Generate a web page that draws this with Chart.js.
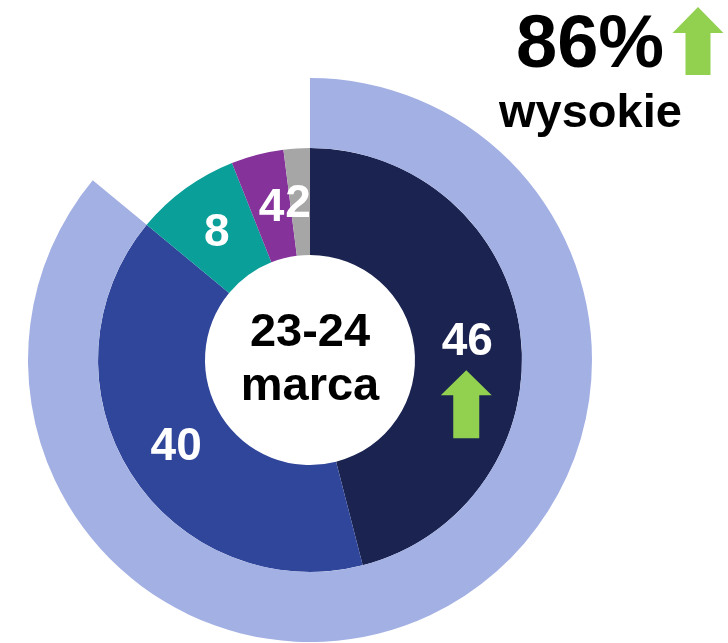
<!DOCTYPE html>
<html>
<head>
<meta charset="utf-8">
<script src="https://cdn.jsdelivr.net/npm/chart.js@4.4.1/dist/chart.umd.min.js"></script>
<style>
  html, body { margin: 0; padding: 0; background: #fff; }
  #wrap { position: relative; width: 728px; height: 643px; }
</style>
</head>
<body>
<div id="wrap"><canvas id="chart"></canvas></div>
<script>
// inner ring: share of answers
const categories = ['46', '40', '8', '4', '2'];
const innerValues = [46, 40, 8, 4, 2];
const innerColors = ['#1b2350', '#30469b', '#0a9f99', '#85329b', '#a6a6a6'];

// outer ring: total "wysokie"
const outerValues = [86, 14];
const outerColors = ['#a3b0e3', 'rgba(0,0,0,0)'];

const centerLines = ['23-24', 'marca'];
const headline = '86%';
const headlineSub = 'wysokie';
const arrowGreen = '#92d050';

function drawArrow(ctx, cx, top, headW, headH, shaftW, bottom) {
    ctx.beginPath();
    ctx.moveTo(cx, top);
    ctx.lineTo(cx + headW / 2, top + headH);
    ctx.lineTo(cx + shaftW / 2, top + headH);
    ctx.lineTo(cx + shaftW / 2, bottom);
    ctx.lineTo(cx - shaftW / 2, bottom);
    ctx.lineTo(cx - shaftW / 2, top + headH);
    ctx.lineTo(cx - headW / 2, top + headH);
    ctx.closePath();
    ctx.fillStyle = arrowGreen;
    ctx.fill();
}

// labels, center text and arrows
const labelsPlugin = {
    id: 'labels',
    afterDraw(chart) {
        const ctx = chart.ctx;
        const meta = chart.getDatasetMeta(1);
        ctx.save();
        ctx.fillStyle = '#fff';
        ctx.font = 'bold 46px "Liberation Sans", Arial, sans-serif';
        ctx.textAlign = 'center';
        ctx.textBaseline = 'middle';
        meta.data.forEach((arc, i) => {
            const p = arc.tooltipPosition();
            let dx = 0, dy = 2;
            if (i === 3) dx = 1;
            if (i === 4) dx = -2;
            ctx.fillText(categories[i], p.x + dx, p.y + dy);
        });

        // arrow below 46
        const p0 = meta.data[0].tooltipPosition();
        drawArrow(ctx, p0.x - 1, p0.y + 30, 51, 25, 26, p0.y + 98);

        // center text
        const c = meta.data[0];
        ctx.fillStyle = '#000';
        ctx.font = 'bold 47px "Liberation Sans", Arial, sans-serif';
        ctx.textBaseline = 'alphabetic';
        ctx.fillText(centerLines[0], c.x, c.y - 14);
        ctx.fillText(centerLines[1], c.x, c.y + 40);

        // headline top right
        ctx.textAlign = 'left';
        ctx.font = 'bold 74px "Liberation Sans", Arial, sans-serif';
        ctx.fillText(headline, 516, 67);
        ctx.font = 'bold 47px "Liberation Sans", Arial, sans-serif';
        ctx.fillText(headlineSub, 499, 127);
        drawArrow(ctx, 698, 7, 51, 26, 25, 75);
        ctx.restore();
    }
};

new Chart(document.getElementById('chart'), {
    type: 'doughnut',
    data: {
        labels: categories,
        datasets: [
            { data: outerValues, backgroundColor: outerColors, borderWidth: 0, hoverOffset: 0, weight: 70 },
            { data: innerValues, backgroundColor: innerColors, borderWidth: 0, hoverOffset: 0, weight: 107 }
        ]
    },
    options: {
        responsive: true,
        maintainAspectRatio: false,
        animation: false,
        cutout: 105,
        layout: { padding: { left: 28, top: 78, right: 136, bottom: 1 } },
        plugins: { legend: { display: false }, tooltip: { enabled: false } }
    },
    plugins: [labelsPlugin]
});
</script>
</body>
</html>
